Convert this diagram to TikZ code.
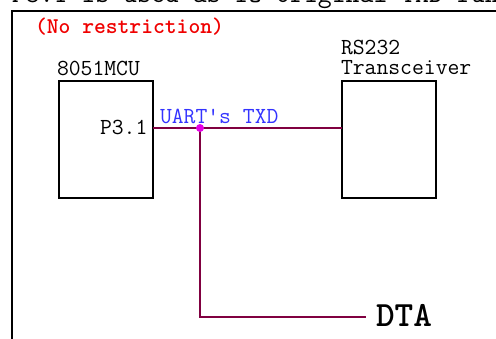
\documentclass[tikz,border=0pt]{standalone}
\usepackage{fontspec}
\definecolor{wire}{RGB}{128,0,64}
\definecolor{dotc}{RGB}{230,0,230}
\definecolor{lblue}{RGB}{51,51,255}
\definecolor{lred}{RGB}{240,0,0}
\begin{document}
\begin{tikzpicture}[x=1pt,y=-1pt,
  txt/.style={inner sep=0pt,outer sep=0pt,anchor=base west,font=\fontsize{23}{24}\selectfont\ttfamily},
  block/.style={draw=black,line width=2.2pt,minimum width=94pt,minimum height=117pt,inner sep=0pt,outer sep=0pt},
  wireline/.style={draw=wire,line width=2pt}]
\useasboundingbox (0,0) rectangle (496,338);
\clip (0,0) rectangle (496,338);
\fill[white] (0,0) rectangle (496,338);
% clipped heading line at the top
\node[txt,font=\fontsize{27}{29}\selectfont\ttfamily] (head) at (12,2.5) {P3.1 is used as IO original TXD function};
% outer frame
\draw[line width=2.5pt] (12,360) -- (12,11) -- (520,11);
\node[txt,text=lred,font=\fontsize{22.5}{24}\selectfont\ttfamily\bfseries] (norestr) at (35,33) {(No restriction)};
% blocks
\node[block] (mcu) at (106,139.5) {};
\node[block] (rs) at (389,139.5) {};
\node[txt] (mcul) at (57,75) {8051MCU};
\node[txt] (rsl1) at (341,54.5) {RS232};
\node[txt] (rsl2) at (341,74) {Transceiver};
\node[txt] (p31) at (100,134) {P3.1};
\node[txt,text=lblue] (uart) at (160,123) {UART's TXD};
\node[txt,font=\fontsize{35.5}{37}\selectfont\ttfamily\bfseries] (dta) at (376,326) {DTA};
% connectors
\coordinate (j) at (200,128);
\coordinate (corner) at (200,317);
\coordinate (dtaend) at (366,317);
\draw[wireline] (mcu.east |- j) -- (j) -- (rs.west |- j);
\draw[wireline] (j) -- (corner) -- (dtaend);
\fill[dotc] (j) circle (4pt);
\end{tikzpicture}
\end{document}
